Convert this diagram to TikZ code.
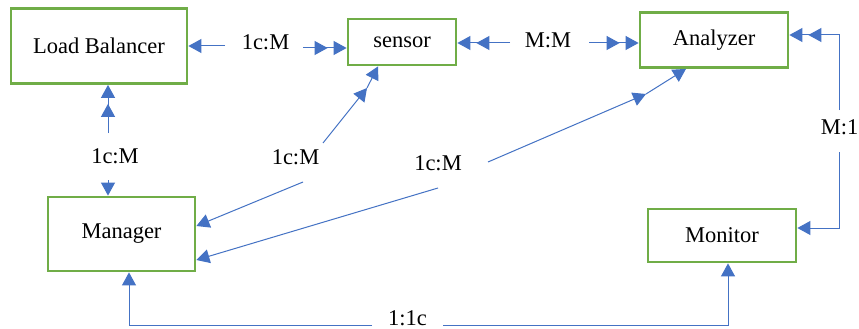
\documentclass[tikz,border=0pt]{standalone}
\usepackage{fontspec}
\setmainfont{Liberation Serif}
\usetikzlibrary{arrows.meta,calc}
\definecolor{boxgreen}{HTML}{70AD47}
\definecolor{linkblue}{HTML}{4472C4}
\begin{document}
\begin{tikzpicture}[x=1pt,y=-1pt,
 box/.style={draw=boxgreen,line width=2.8pt,fill=white,inner sep=0pt,font=\fontsize{22.5}{26}\selectfont},
 lbl/.style={inner sep=0pt,font=\fontsize{22.5}{26}\selectfont},
 link/.style={draw=linkblue,line width=1pt},
 one/.style={link,-{Triangle[length=13pt,width=14pt]}},
 two/.style={link,-{Triangle[length=13pt,width=14pt,sep=6pt]Triangle[length=13pt,width=14pt]}}]
\useasboundingbox[fill=white] (0,0) rectangle (859,329);

% boxes
\node[box,minimum width=176pt,minimum height=75pt] (LB) at (99,46) {Load Balancer};
\node[box,minimum width=108pt,minimum height=46pt] (S) at (402,42) {sensor};
\node[box,minimum width=148pt,minimum height=55pt] (A) at (714,40) {Analyzer};
\node[box,minimum width=147pt,minimum height=74pt] (Ma) at (121.5,234) {Manager};
\node[box,minimum width=148pt,minimum height=53pt] (Mo) at (722,235.5) {Monitor};

% labels
\node[lbl] (l1) at (265.5,42) {1c:M};
\node[lbl] (l2) at (548,40) {M:M};
\node[lbl] (l3) at (115,156.5) {1c:M};
\node[lbl] (l4) at (295.5,157) {1c:M};
\node[lbl] (l5) at (438,163.5) {1c:M};
\node[lbl] (l6) at (839.5,127) {M:1};
\node[lbl] (l7) at (407.5,318) {1:1c};

% Load Balancer -- sensor
\coordinate (p1a) at (225,46);
\coordinate (p1b) at (303,48);
\draw[one] (p1a) -- (p1a -| LB.east);
\draw[two] (p1b) -- (p1b -| S.west);

% sensor -- Analyzer
\coordinate (p2a) at (510,43);
\coordinate (p2b) at (589,43);
\draw[two] (p2a) -- (p2a -| S.east);
\draw[two] (p2b) -- (p2b -| A.west);

% Analyzer -- Monitor
\coordinate (p3a) at (839,110);
\coordinate (p3c) at (839,35);
\draw[two] (p3a) -- (p3c) -- (p3c -| A.east);
\coordinate (p3b) at (839,152);
\coordinate (p3d) at (839,228);
\draw[one] (p3b) -- (p3d) -- (p3d -| Mo.east);

% Load Balancer -- Manager
\coordinate (p4a) at (108,133);
\coordinate (p4b) at (108,180);
\draw[two] (p4a) -- (p4a |- LB.south);
\draw[one] (p4b) -- (p4b |- Ma.north);

% sensor -- Manager
\coordinate (p5a) at (323,143);
\coordinate (p5k) at (367,88);
\draw[one] (p5a) -- (p5k);
\draw[one] (p5k) -- ([xshift=-24pt]S.south);
\coordinate (p5b) at (303,182);
\draw[one] (p5b) -- ([yshift=8pt]Ma.east);

% Analyzer -- Manager
\coordinate (p6a) at (488,162);
\coordinate (p6k) at (646,94);
\draw[one] (p6a) -- (p6k);
\draw[one] (p6k) -- ([xshift=-28pt]A.south);
\coordinate (p6b) at (438,188);
\draw[one] (p6b) -- ([yshift=-26pt]Ma.east);

% Manager -- Monitor
\coordinate (p7a) at (372,325);
\coordinate (p7b) at (443,325);
\coordinate (m7) at ([xshift=7.5pt]Ma.south);
\coordinate (n7) at ([xshift=6pt]Mo.south);
\draw[one] (p7a) -- (m7 |- p7a) -- (m7);
\draw[one] (p7b) -- (n7 |- p7b) -- (n7);
\end{tikzpicture}
\end{document}
